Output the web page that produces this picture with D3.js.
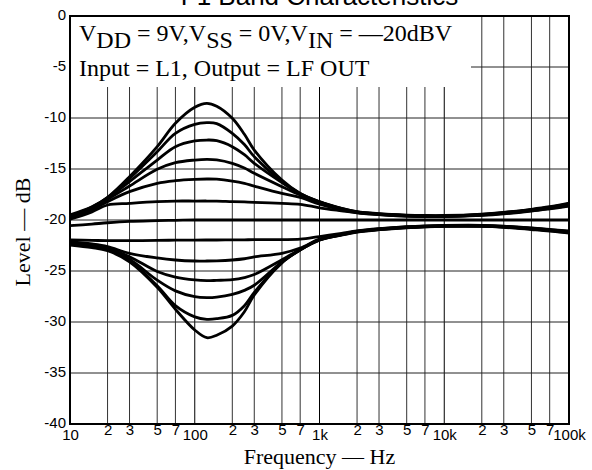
<!DOCTYPE html>
<html><head><meta charset="utf-8">
<script src="https://cdn.jsdelivr.net/npm/d3@7"></script>
<style>body{margin:0;background:#fff}svg{display:block}text{fill:#000}</style>
</head><body><svg id="c" width="592" height="470"></svg>
<script>
const freqs = [10,15,20,30,50,70,100,125,150,200,250,300,500,700,1000,1500,2000,3000,5000,7000,10000,20000,30000,50000,70000,100000];
const boost1 = [-19.67,-18.75,-17.78,-15.75,-12.81,-10.52,-8.95,-8.56,-8.85,-10.03,-11.6,-13.14,-16.08,-17.39,-18.2,-18.85,-19.18,-19.38,-19.52,-19.56,-19.56,-19.42,-19.25,-18.95,-18.7,-18.35];
const boost2 = [-19.5,-18.7,-17.81,-15.92,-13.3,-11.5,-10.62,-10.46,-10.55,-11.5,-12.6,-13.79,-16.24,-17.39,-18.22,-18.87,-19.2,-19.4,-19.55,-19.59,-19.59,-19.45,-19.28,-18.98,-18.74,-18.42];
const boost3 = [-19.6,-18.75,-17.88,-16.24,-14.12,-12.81,-12.25,-12.16,-12.22,-12.81,-13.6,-14.44,-16.34,-17.45,-18.25,-18.9,-19.22,-19.42,-19.57,-19.61,-19.61,-19.47,-19.3,-19.01,-18.78,-18.48];
const boost4 = [-19.74,-18.85,-17.97,-16.67,-15.03,-14.38,-14.12,-14.05,-14.1,-14.44,-14.9,-15.42,-16.73,-17.55,-18.3,-18.92,-19.24,-19.44,-19.59,-19.63,-19.63,-19.49,-19.33,-19.04,-18.82,-18.54];
const boost5 = [-19.84,-19.0,-18.2,-17.22,-16.4,-16.14,-16.01,-15.98,-16.0,-16.18,-16.4,-16.67,-17.39,-17.78,-18.45,-19.0,-19.28,-19.46,-19.61,-19.65,-19.65,-19.52,-19.36,-19.08,-18.86,-18.6];
const boost6 = [-19.93,-19.2,-18.53,-18.37,-18.2,-18.14,-18.14,-18.14,-18.15,-18.2,-18.23,-18.27,-18.37,-18.46,-18.8,-19.1,-19.3,-19.48,-19.63,-19.67,-19.67,-19.55,-19.4,-19.12,-18.9,-18.65];
const flat0 = [-20.56,-20.4,-20.27,-20.14,-20.07,-20.03,-20,-20,-20,-20,-20,-20,-20,-20,-20,-20,-20,-20,-20,-20,-20,-20,-20,-20,-20,-20];
const cut6 = [-21.96,-22.0,-22.03,-22.03,-22.0,-21.98,-21.97,-21.96,-21.96,-21.95,-21.94,-21.93,-21.92,-21.88,-21.62,-21.3,-21.06,-20.85,-20.66,-20.58,-20.53,-20.52,-20.6,-20.78,-20.92,-21.08];
const cut5 = [-22.12,-22.35,-22.61,-23.27,-23.72,-23.92,-24.02,-24.02,-24.0,-23.92,-23.8,-23.62,-23.27,-22.75,-21.88,-21.4,-21.1,-20.87,-20.68,-20.6,-20.55,-20.55,-20.63,-20.81,-20.96,-21.13];
const cut4 = [-22.22,-22.5,-22.78,-23.6,-25.05,-25.6,-25.88,-25.95,-25.92,-25.85,-25.65,-25.35,-23.9,-22.88,-21.92,-21.42,-21.12,-20.89,-20.7,-20.62,-20.57,-20.57,-20.65,-20.84,-20.99,-21.17];
const cut3 = [-22.29,-22.55,-22.88,-23.85,-25.9,-26.95,-27.52,-27.61,-27.56,-27.3,-26.9,-26.4,-24.1,-22.92,-21.94,-21.44,-21.14,-20.91,-20.72,-20.64,-20.59,-20.59,-20.68,-20.87,-21.02,-21.2];
const cut2 = [-22.35,-22.6,-22.94,-23.98,-26.45,-28.4,-29.5,-29.74,-29.68,-29.35,-28.4,-27.1,-24.15,-22.94,-21.96,-21.46,-21.16,-20.93,-20.74,-20.66,-20.61,-20.61,-20.7,-20.9,-21.05,-21.24];
const cut1 = [-22.45,-22.7,-23.01,-24.1,-26.6,-28.75,-30.78,-31.54,-31.3,-30.4,-29.0,-27.35,-24.2,-22.94,-21.98,-21.48,-21.18,-20.95,-20.76,-20.68,-20.63,-20.63,-20.72,-20.93,-21.08,-21.28];
const seriesList = [boost1,boost2,boost3,boost4,boost5,boost6,flat0,cut6,cut5,cut4,cut3,cut2,cut1];

const yTicks = [0,-5,-10,-15,-20,-25,-30,-35,-40];
const xTicks = [10,20,30,50,70,100,200,300,500,700,1000,2000,3000,5000,7000,10000,20000,30000,50000,70000,100000];
const xTickLabels = ["10","2","3","5","7","100","2","3","5","7","1k","2","3","5","7","10k","2","3","5","7","100k"];
const decadeTicks = [10,100,1000,10000,100000];

const titleText = "F1 Band Characteristics";
const noteLine2 = "Input = L1, Output = LF OUT";

const L = 70, R = 569, T = 16, B = 424;
const svg = d3.select("#c");
const x = d3.scaleLog().domain([10,100000]).range([L,R]);
const y = d3.scaleLinear().domain([-40,0]).range([B,T]);

// grid
svg.append("g").selectAll("line").data(xTicks.slice(1,-1)).join("line")
  .attr("x1",d=>x(d)).attr("x2",d=>x(d)).attr("y1",T).attr("y2",B)
  .attr("stroke",d=>decadeTicks.includes(d)?"#000":"#333").attr("stroke-width",1);
svg.append("g").selectAll("line").data(yTicks.slice(1,-1)).join("line")
  .attr("x1",L).attr("x2",R).attr("y1",d=>y(d)).attr("y2",d=>y(d))
  .attr("stroke","#222").attr("stroke-width",1);

// note mask
svg.append("rect").attr("x",L+1).attr("y",T+1).attr("width",400).attr("height",70).attr("fill","#fff");

// curves
const line = d3.line().x((d,i)=>x(freqs[i])).y(d=>y(d)).curve(d3.curveCatmullRom.alpha(0.5));
svg.append("g").selectAll("path").data(seriesList).join("path")
  .attr("d",line).attr("fill","none").attr("stroke","#000").attr("stroke-width",2.8)
  .attr("stroke-linejoin","round");

// frame
svg.append("rect").attr("x",L).attr("y",T).attr("width",R-L).attr("height",B-T)
  .attr("fill","none").attr("stroke","#000").attr("stroke-width",2);

// axes
const sans = "'Liberation Sans',Arial,sans-serif";
const ya = svg.append("g").attr("transform",`translate(${L},0)`)
  .call(d3.axisLeft(y).tickValues(yTicks).tickSize(0).tickPadding(4).tickFormat(d=>String(d)));
ya.select(".domain").remove();
ya.selectAll("text").attr("font-family",sans).attr("font-size",15).attr("fill","#000").attr("dy","0.2em");

const xa = svg.append("g").attr("transform",`translate(0,${B})`)
  .call(d3.axisBottom(x).tickValues(xTicks).tickSize(0).tickPadding(3).tickFormat((d,i)=>xTickLabels[i]));
xa.select(".domain").remove();
xa.selectAll("text").attr("font-family",sans).attr("font-size",15).attr("fill","#000")
  .attr("dy",d=>decadeTicks.includes(d)?"0.85em":"0.55em");

// title
svg.append("text").attr("x",(L+R)/2).attr("y",5).attr("text-anchor","middle").attr("fill","#000")
  .attr("font-family",sans).attr("font-size",26).text(titleText);

// note text
const serif = "'Liberation Serif','Times New Roman',serif";
const t1 = svg.append("text").attr("x",79).attr("y",41).attr("font-family",serif).attr("font-size",24).attr("fill","#000");
const parts = [["V",0],["DD",7],[" = 9V,V",-7],["SS",7],[" = 0V,V",-7],["IN",7],[" = \u201420dBV",-7]];
parts.forEach(([s,dy])=>t1.append("tspan").attr("dy",dy).text(s));
svg.append("text").attr("x",79).attr("y",76).attr("font-family",serif).attr("font-size",24).attr("fill","#000").text(noteLine2);

// axis titles
svg.append("text").attr("x",(L+R)/2).attr("y",464).attr("text-anchor","middle").attr("fill","#000")
  .attr("font-family",serif).attr("font-size",22).text("Frequency  \u2014  Hz");
svg.append("text").attr("transform","translate(30,232) rotate(-90)").attr("text-anchor","middle").attr("fill","#000")
  .attr("font-family",serif).attr("font-size",22).text("Level  \u2014  dB");
</script></body></html>
